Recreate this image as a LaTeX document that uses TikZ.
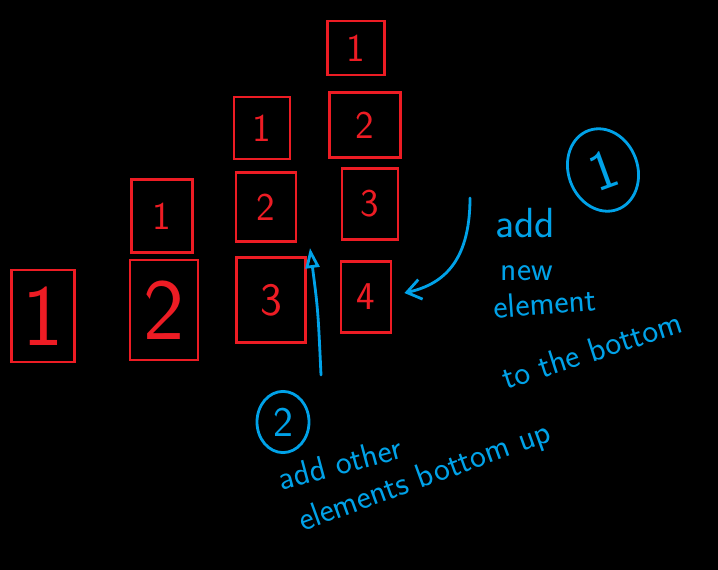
\documentclass[tikz,border=0pt]{standalone}
\usepackage{tikz}
\usetikzlibrary{arrows.meta,shapes.geometric}
\definecolor{paintred}{RGB}{237,28,36}
\definecolor{paintblue}{RGB}{0,162,232}
\newcommand{\digitfont}[1]{\sffamily\fontsize{#1}{#1}\selectfont}

\begin{document}
\begin{tikzpicture}[x=0.025cm, y=-0.025cm,
    cell/.style={draw=paintred, line width=2pt, text=paintred, inner sep=0pt, font=\digitfont{28}},
    badge/.style={ellipse, draw=paintblue, line width=2pt, text=paintblue, inner sep=0pt},
    note/.style={text=paintblue, inner sep=0pt, font=\digitfont{24}},
    hint/.style={draw=paintblue, line width=2pt, line cap=round}]
  \fill[black] (0,0) rectangle (718,570);

  % stack with one element
  \node[cell, minimum width=1.58cm, minimum height=2.30cm, font=\digitfont{62}] (s1a) at (43,316) {1};

  % stack with two elements
  \node[cell, minimum width=1.53cm, minimum height=1.83cm] (s2a) at (162,216) {1};
  \node[cell, minimum width=1.70cm, minimum height=2.50cm, font=\digitfont{62}] (s2b) at (164,310) {2};

  % stack with three elements
  \node[cell, minimum width=1.40cm, minimum height=1.55cm] (s3a) at (262,128) {1};
  \node[cell, minimum width=1.50cm, minimum height=1.73cm] (s3b) at (266,207) {2};
  \node[cell, minimum width=1.73cm, minimum height=2.13cm, font=\digitfont{33}] (s3c) at (271,300) {3};

  % stack with four elements
  \node[cell, minimum width=1.43cm, minimum height=1.35cm] (s4a) at (356,48) {1};
  \node[cell, minimum width=1.78cm, minimum height=1.63cm] (s4b) at (365,125) {2};
  \node[cell, minimum width=1.40cm, minimum height=1.78cm] (s4c) at (370,204) {3};
  \node[cell, minimum width=1.25cm, minimum height=1.78cm] (s4d) at (366,297) {4};

  % step 1
  \node[badge, minimum width=1.73cm, minimum height=2.10cm, rotate=20, font=\digitfont{40}] (badgeA) at (603,170) {1};
  \coordinate (hintA) at (470,198);
  \draw[hint, -{Straight Barb[length=3.5mm,width=5mm]}]
    (hintA) .. controls (470,265) and (440,285) .. ([xshift=0.3cm,yshift=0.1cm]s4d.east);
  \node[note, font=\digitfont{30}] (noteA1) at (525,223) {add};
  \node[note] (noteA2) at (527,273) {new};
  \node[note, rotate=4] (noteA3) at (545,303) {element};
  \node[note, rotate=18] (noteA4) at (592,350) {to the bottom};

  % step 2
  \node[badge, minimum width=1.30cm, minimum height=1.53cm, font=\digitfont{30}] (badgeB) at (283,422) {2};
  \coordinate (hintB) at (321,375);
  \coordinate (hintBtip) at (310,248);
  \draw[hint, -{Triangle[open,length=5mm,width=3.5mm]}]
    (hintB) .. controls (318,310) .. (hintBtip);
  \node[note, rotate=15] (noteB1) at (340,463) {add other};
  \node[note, rotate=20] (noteB2) at (425,478) {elements bottom up};
\end{tikzpicture}
\end{document}
